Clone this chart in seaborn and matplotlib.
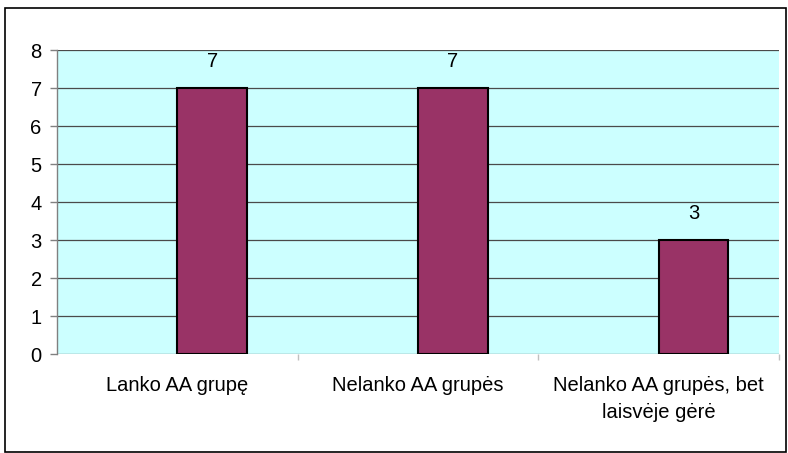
import matplotlib
matplotlib.use("Agg")
import matplotlib.pyplot as plt
import seaborn as sns
import pandas as pd
from matplotlib.patches import Rectangle

categories = ["Lanko AA grupę", "Nelanko AA grupės", "Nelanko AA grupės, bet\nlaisvėje gėrė"]
values = [7, 7, 3]
y_ticks = [0, 1, 2, 3, 4, 5, 6, 7, 8]

sns.set_theme(style="white")
plt.rcParams['font.family'] = ['Liberation Sans', 'DejaVu Sans']

FS = 14.5

df = pd.DataFrame({
    "cat": categories * 2,
    "series": ["empty"] * len(categories) + ["data"] * len(categories),
    "val": [0] * len(categories) + values,
})

fig = plt.figure(figsize=(7.88, 4.53), dpi=100)
ax = fig.add_axes([57/788, 1-354/453, (779-57)/788, (354-50)/453])
ax.set_facecolor("#CCFFFF")

sns.barplot(data=df, x="cat", y="val", hue="series", hue_order=["empty", "data"],
            palette={"empty": "#CCFFFF", "data": "#993366"}, width=0.58, saturation=1,
            edgecolor="black", linewidth=1.5, legend=False, ax=ax, zorder=3)

for i, c in enumerate(ax.containers):
    if i == 0:
        for p in c:
            p.set_linewidth(0)
            p.set_visible(False)
    else:
        ax.bar_label(c, labels=[str(v) for v in values], padding=12, fontsize=FS, color="black")

ax.set_xlim(-0.5, len(categories) - 0.5)
ax.set_ylim(0, 8)
ax.set_yticks(y_ticks)
ax.set_yticklabels([str(t) for t in y_ticks], fontsize=FS)
ax.yaxis.grid(True, color="#4a4a4a", linewidth=0.9)
ax.set_axisbelow(True)
ax.set_xlabel("")
ax.set_ylabel("")

for s in ["top", "right", "bottom"]:
    ax.spines[s].set_visible(False)
ax.spines["left"].set_color("#808080")
ax.spines["left"].set_linewidth(1.0)

ax.tick_params(axis="y", which="both", left=True, length=5, color="#808080", width=1, pad=6, labelcolor="black")
ax.set_xticks(range(len(categories)))
ax.set_xticklabels(categories, fontsize=FS, linespacing=1.55)
ax.tick_params(axis="x", length=0, pad=16, labelcolor="black")

ax.set_xticks([i + 0.5 for i in range(len(categories))], minor=True)
ax.tick_params(axis="x", which="minor", bottom=True, length=4, color="#c0c0c0", width=1)

fig.patches.append(Rectangle((5/788, 1-452/453), (786-5)/788, (452-8)/453,
                             transform=fig.transFigure, fill=False, edgecolor="black",
                             linewidth=1.2))

fig.savefig("out.png", dpi=100)
